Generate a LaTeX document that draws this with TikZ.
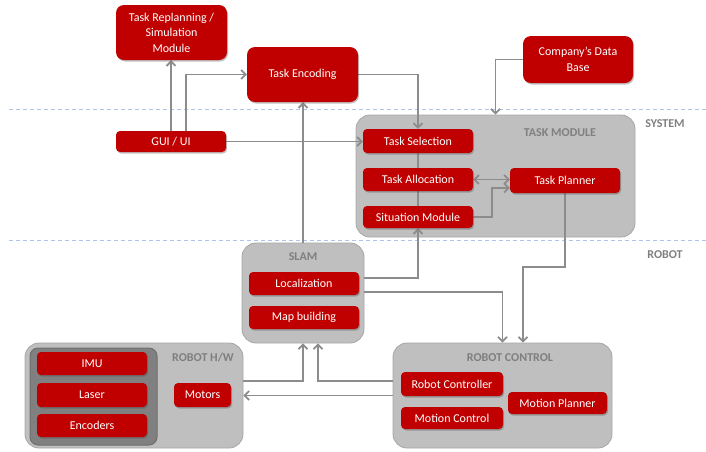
\documentclass[tikz,border=0pt]{standalone}
\usepackage{fontspec}
\setmainfont{Carlito}
\usetikzlibrary{arrows.meta,calc,shadows}
\definecolor{boxred}{HTML}{C00000}
\definecolor{contgray}{HTML}{BFBFBF}
\definecolor{contborder}{HTML}{A6A6A6}
\definecolor{innergray}{HTML}{808080}
\definecolor{innerborder}{HTML}{6E6E6E}
\definecolor{labelgray}{HTML}{7F7F7F}
\definecolor{linegray}{HTML}{8C8C8C}
\definecolor{dashblue}{HTML}{AEC4EA}
\pgfdeclarelayer{bg}
\pgfdeclarelayer{conns}
\pgfsetlayers{bg,conns,main}
\begin{document}
\begin{tikzpicture}[x=1pt,y=-1pt,
  redbox/.style={draw=none, fill=boxred, text=white, rounded corners=4pt, inner sep=2pt,
    font=\fontsize{12}{15.5}\selectfont, align=center,
    drop shadow={shadow xshift=1pt,shadow yshift=-1.5pt,opacity=0.35,fill=black!70}},
  bigred/.style={redbox, rounded corners=8pt},
  cont/.style={draw=contborder, fill=contgray, line width=0.8pt, rounded corners=14pt, inner sep=0pt},
  innercont/.style={draw=innerborder, fill=innergray, line width=1pt, rounded corners=8pt, inner sep=0pt},
  lbl/.style={text=labelgray, font=\bfseries\fontsize{12}{14}\selectfont, inner sep=0pt},
  conn/.style={draw=linegray, line width=1.8pt, -{Straight Barb[length=4.5pt,width=9pt]}},
  conn2/.style={draw=linegray, line width=1.8pt, {Straight Barb[length=4.5pt,width=9pt]}-{Straight Barb[length=4.5pt,width=9pt]}},
  plainline/.style={draw=linegray, line width=1.8pt},
  dashline/.style={draw=dashblue, line width=0.9pt, dash pattern=on 4pt off 3pt}]
\useasboundingbox (0,0) rectangle (706,451);

% background layer: dashed separators and containers
\begin{pgfonlayer}{bg}
\draw[dashline] (9,109) -- (706,109);
\draw[dashline] (9,240) -- (706,240);
\node[cont, minimum width=279pt, minimum height=122pt] (taskmod) at (495.5,176) {};
\node[cont, minimum width=122pt, minimum height=100pt] (slam) at (303,293) {};
\node[cont, minimum width=218pt, minimum height=105pt] (hw) at (134,395.5) {};
\node[innercont, minimum width=127pt, minimum height=97pt] (hwin) at (93.5,396.5) {};
\node[cont, minimum width=219pt, minimum height=105pt] (rc) at (502.5,395.5) {};
\end{pgfonlayer}

% labels
\node[lbl] (lsys) at (665,124) {SYSTEM};
\node[lbl] (lrob) at (665,255) {ROBOT};
\node[lbl] (ltm) at (560,133) {TASK MODULE};
\node[lbl] (lslam) at (303,257) {SLAM};
\node[lbl] (lhw) at (203,358) {ROBOT H/W};
\node[lbl] (lrc) at (510,358) {ROBOT CONTROL};

% red boxes
\node[bigred, minimum width=111pt, minimum height=55pt] (replan) at (171.5,32.5) {Task Replanning /\\Simulation\\Module};
\node[bigred, minimum width=111pt, minimum height=55pt] (enc) at (302.5,74.5) {Task Encoding};
\node[redbox, minimum width=110pt, minimum height=21pt] (gui) at (171,141.5) {GUI / UI};
\node[bigred, minimum width=110pt, minimum height=47pt] (db) at (578,59.5) {Company’s Data\\Base};
\node[redbox, minimum width=110pt, minimum height=24pt] (sel) at (418,141) {Task Selection};
\node[redbox, minimum width=110pt, minimum height=23pt] (alloc) at (418,179.5) {Task Allocation};
\node[redbox, minimum width=110pt, minimum height=22pt] (sit) at (418,217) {Situation Module};
\node[redbox, minimum width=110pt, minimum height=25pt] (planner) at (565,180.5) {Task Planner};
\node[redbox, minimum width=110pt, minimum height=23pt] (loc) at (304,283.5) {Localization};
\node[redbox, minimum width=110pt, minimum height=23pt] (map) at (304,317.5) {Map building};
\node[redbox, minimum width=110pt, minimum height=23pt] (imu) at (92,363.5) {IMU};
\node[redbox, minimum width=110pt, minimum height=24pt] (laser) at (92,395) {Laser};
\node[redbox, minimum width=110pt, minimum height=23pt] (encoders) at (92,425.5) {Encoders};
\node[redbox, minimum width=57pt, minimum height=24pt] (motors) at (202.5,395) {Motors};
\node[redbox, minimum width=102pt, minimum height=24pt] (rctrl) at (452,384) {Robot Controller};
\node[redbox, minimum width=102pt, minimum height=22pt] (mctrl) at (452,418) {Motion Control};
\node[redbox, minimum width=99pt, minimum height=22pt] (mplan) at (557.5,403) {Motion Planner};

% connectors
\begin{pgfonlayer}{conns}
\draw[conn] (gui.north) -- (gui.north |- replan.south);
\draw[conn] ([xshift=15pt]gui.north) |- (enc.west);
\draw[conn] (gui.east) -- (gui.east -| sel.west);
\draw[conn] (enc.east) -| (sel.north);
\draw[conn] (db.west) -| (taskmod.north);
\draw[plainline] (sel.south) -- (sit.north);
\draw[conn2] (alloc.east) -- (alloc.east -| planner.west);
\draw[conn] (sit.east) -- ++(19,0) |- ([yshift=-7.5pt]planner.west);
\draw[conn] ($(slam.east |- loc.east)+(0,-5.5)$) -| (sit.south);
\draw[conn] ($(slam.east)+(0,-1)$) -| (rc.north);
\draw[conn] (planner.south) |- ($(rc.north)+(20.5,-76)$) -- ($(rc.north)+(20.5,0)$);
\draw[conn] (slam.north) -- (slam.north |- enc.south);
\draw[conn] ($(hw.east)+(0,-14.5)$) -| (slam.south);
\draw[conn] ($(rc.west)+(0,-14.5)$) -| ($(slam.south)+(15,0)$);
\draw[conn] (rc.west) -- (hw.east);
\end{pgfonlayer}
\end{tikzpicture}
\end{document}
